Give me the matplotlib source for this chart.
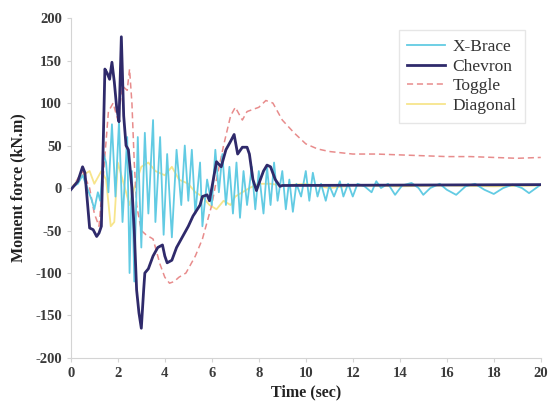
import matplotlib.pyplot as plt

plt.rcParams['font.family'] = ['Liberation Serif', 'DejaVu Serif']
plt.rcParams['axes.unicode_minus'] = False

# X-Brace (oscilacion rapida)
xb_t = [0, 0.3, 0.5, 0.7, 0.9, 1.0, 1.15, 1.25, 1.4, 1.5, 1.6, 1.75, 1.9, 2.05, 2.2,
        2.4, 2.5, 2.6, 2.7, 2.85, 3.0, 3.15, 3.3, 3.5, 3.6, 3.8, 3.95, 4.1, 4.3, 4.5,
        4.7, 4.85, 5.0, 5.15, 5.3, 5.5, 5.6, 5.8, 6.0, 6.15, 6.3, 6.45, 6.6, 6.75,
        6.9, 7.05, 7.2, 7.35, 7.5, 7.7, 7.85, 8.0, 8.2, 8.35, 8.5, 8.65, 8.8, 9.0,
        9.15, 9.3, 9.45, 9.6, 9.8, 10.0, 10.15, 10.3, 10.5, 10.65, 10.85, 11.0, 11.2,
        11.45, 11.6, 11.8, 12.0, 12.2, 12.5, 12.8, 13.0, 13.2, 13.5, 13.8, 14.1, 14.5,
        14.8, 15.0, 15.3, 15.7, 16.0, 16.4, 16.8, 17.2, 17.6, 18.0, 18.4, 18.8, 19.2,
        19.5, 19.8, 20]
xb_v = [0, 5, 15, 0, -15, -25, -5, -15, 40, 30, -5, 75, -10, 78, -40,
        60, -100, 20, -110, 60, -70, 65, -30, 80, -40, 60, -55, 40, -58, 45,
        -20, 50, -15, 45, -30, 30, -45, 10, -20, 45, -5, 40, -20, 25,
        -30, 30, -35, 20, -20, 25, -25, 20, -30, 25, -20, 30, -15, 20,
        -25, 10, -28, 5, -10, 20, -15, 18, -10, 5, -15, 3, -10,
        8, -10, 5, -10, 5, 2, -5, 8, 0, 5, -8, 3, 6,
        0, -8, 0, 5, -2, -8, 2, 5, -2, -7, 0, 4, 0,
        -6, 0, 4]

# Chevron
ch_t = [0, 0.3, 0.5, 0.6, 0.8, 0.95, 1.1, 1.2, 1.3, 1.45, 1.55, 1.65, 1.75, 1.85,
        1.95, 2.05, 2.15, 2.25, 2.35, 2.45, 2.6, 2.7, 2.8, 2.9, 3.0, 3.1, 3.15, 3.3,
        3.5, 3.7, 3.9, 4.0, 4.1, 4.3, 4.5, 4.8, 5.0, 5.2, 5.5, 5.6, 5.8, 5.9, 6.0,
        6.2, 6.4, 6.5, 6.6, 6.8, 6.95, 7.1, 7.3, 7.5, 7.6, 7.75, 7.9, 8.0, 8.2,
        8.35, 8.5, 8.7, 8.9, 9.0, 20]
ch_v = [-2, 8, 25, 18, -47, -49, -57, -53, -45, 140, 135, 128, 148, 125,
        95, 78, 178, 85, 50, 45, 0, -50, -120, -147, -165, -120, -100, -95,
        -80, -70, -67, -80, -88, -85, -70, -55, -45, -33, -20, -10, -8, -15, 0,
        31, 25, 35, 45, 55, 63, 40, 48, 48, 40, 10, -3, 5, 20,
        27, 25, 10, 2, 3, 4]

# Toggle
tg_t = [0, 0.5, 0.8, 1.0, 1.2, 1.4, 1.6, 1.8, 2.0, 2.2, 2.4, 2.5, 2.6, 2.7, 2.8,
        3.0, 3.2, 3.5, 3.8, 4.0, 4.2, 4.4, 4.6, 4.9, 5.0, 5.3, 5.6, 5.8, 6.0, 6.2,
        6.5, 6.8, 7.0, 7.3, 7.5, 8.0, 8.3, 8.6, 9.0, 9.5, 10, 10.5, 11, 12, 13,
        14, 15, 16, 17, 18, 19, 20]
tg_v = [-2, 20, 0, -30, -45, 20, 90, 100, 80, 120, 115, 140, 100, 30, -20,
        -50, -55, -60, -90, -105, -112, -110, -105, -100, -95, -80, -60, -40, -20, 10,
        50, 85, 95, 80, 90, 95, 103, 100, 80, 65, 52, 46, 43, 40, 40,
        39, 38, 37, 37, 36, 35, 36]

# Diagonal
dg_t = [0, 0.5, 0.8, 1.0, 1.3, 1.5, 1.7, 1.85, 2.0, 2.2, 2.5, 2.7, 3.0, 3.3, 3.6,
        4.0, 4.3, 4.6, 5.0, 5.3, 5.6, 5.9, 6.2, 6.5, 6.8, 7.0, 7.3, 7.6, 8.0, 8.5,
        9.0, 10, 11, 12, 14, 16, 18, 20]
dg_v = [0, 15, 20, 5, 20, 10, -45, -40, 30, 10, -20, 0, 25, 30, 20,
        15, 25, 10, 5, -5, -10, -20, -25, -15, -20, -10, -5, 0, 5, 5,
        3, 5, 0, 3, 2, 3, 2, 3]

fig = plt.figure(figsize=(5.49, 4.11), dpi=100)
ax = fig.add_axes([0.129, 0.129, 0.856, 0.827])

ax.plot(dg_t, dg_v, color='#f7e58c', lw=1.3, label='Diagonal', zorder=2)
ax.plot(tg_t, tg_v, color='#e88c8c', lw=1.1, ls=(0, (4, 2.5)), label='Toggle', zorder=3)
ax.plot(xb_t, xb_v, color='#62cbe3', lw=1.3, label='X-Brace', zorder=4)
ax.plot(ch_t, ch_v, color='#2f2a6b', lw=2.0, label='Chevron', zorder=5)

ax.set_xlim(0, 20)
ax.set_ylim(-200, 200)
ax.set_xticks(range(0, 21, 2))
ax.set_yticks(range(-200, 201, 50))

for s in ['top', 'right']:
    ax.spines[s].set_visible(False)
for s in ['left', 'bottom']:
    ax.spines[s].set_color('#d4d4d4')
ax.tick_params(colors='#d4d4d4', labelcolor='#3a3a3a', length=3, labelsize=10.5)
for lab in ax.get_xticklabels() + ax.get_yticklabels():
    lab.set_fontweight('bold')

ax.set_xlabel('Time (sec)', fontsize=11.5, fontweight='bold', color='#222222', labelpad=3)
ax.set_ylabel('Moment force (kN.m)', fontsize=11.5, fontweight='bold', color='#222222', labelpad=6)

h, l = ax.get_legend_handles_labels()
order = [2, 3, 1, 0]
leg = ax.legend([h[i] for i in order], [l[i] for i in order], loc='upper right',
                bbox_to_anchor=(0.985, 0.99), fontsize=12.5, frameon=True,
                fancybox=False, edgecolor='#e0e0e0', handlelength=2.2,
                borderpad=0.5, labelspacing=0.2, handletextpad=0.4)
for t in leg.get_texts():
    t.set_color('#333333')

fig.savefig('out.png', dpi=100)
